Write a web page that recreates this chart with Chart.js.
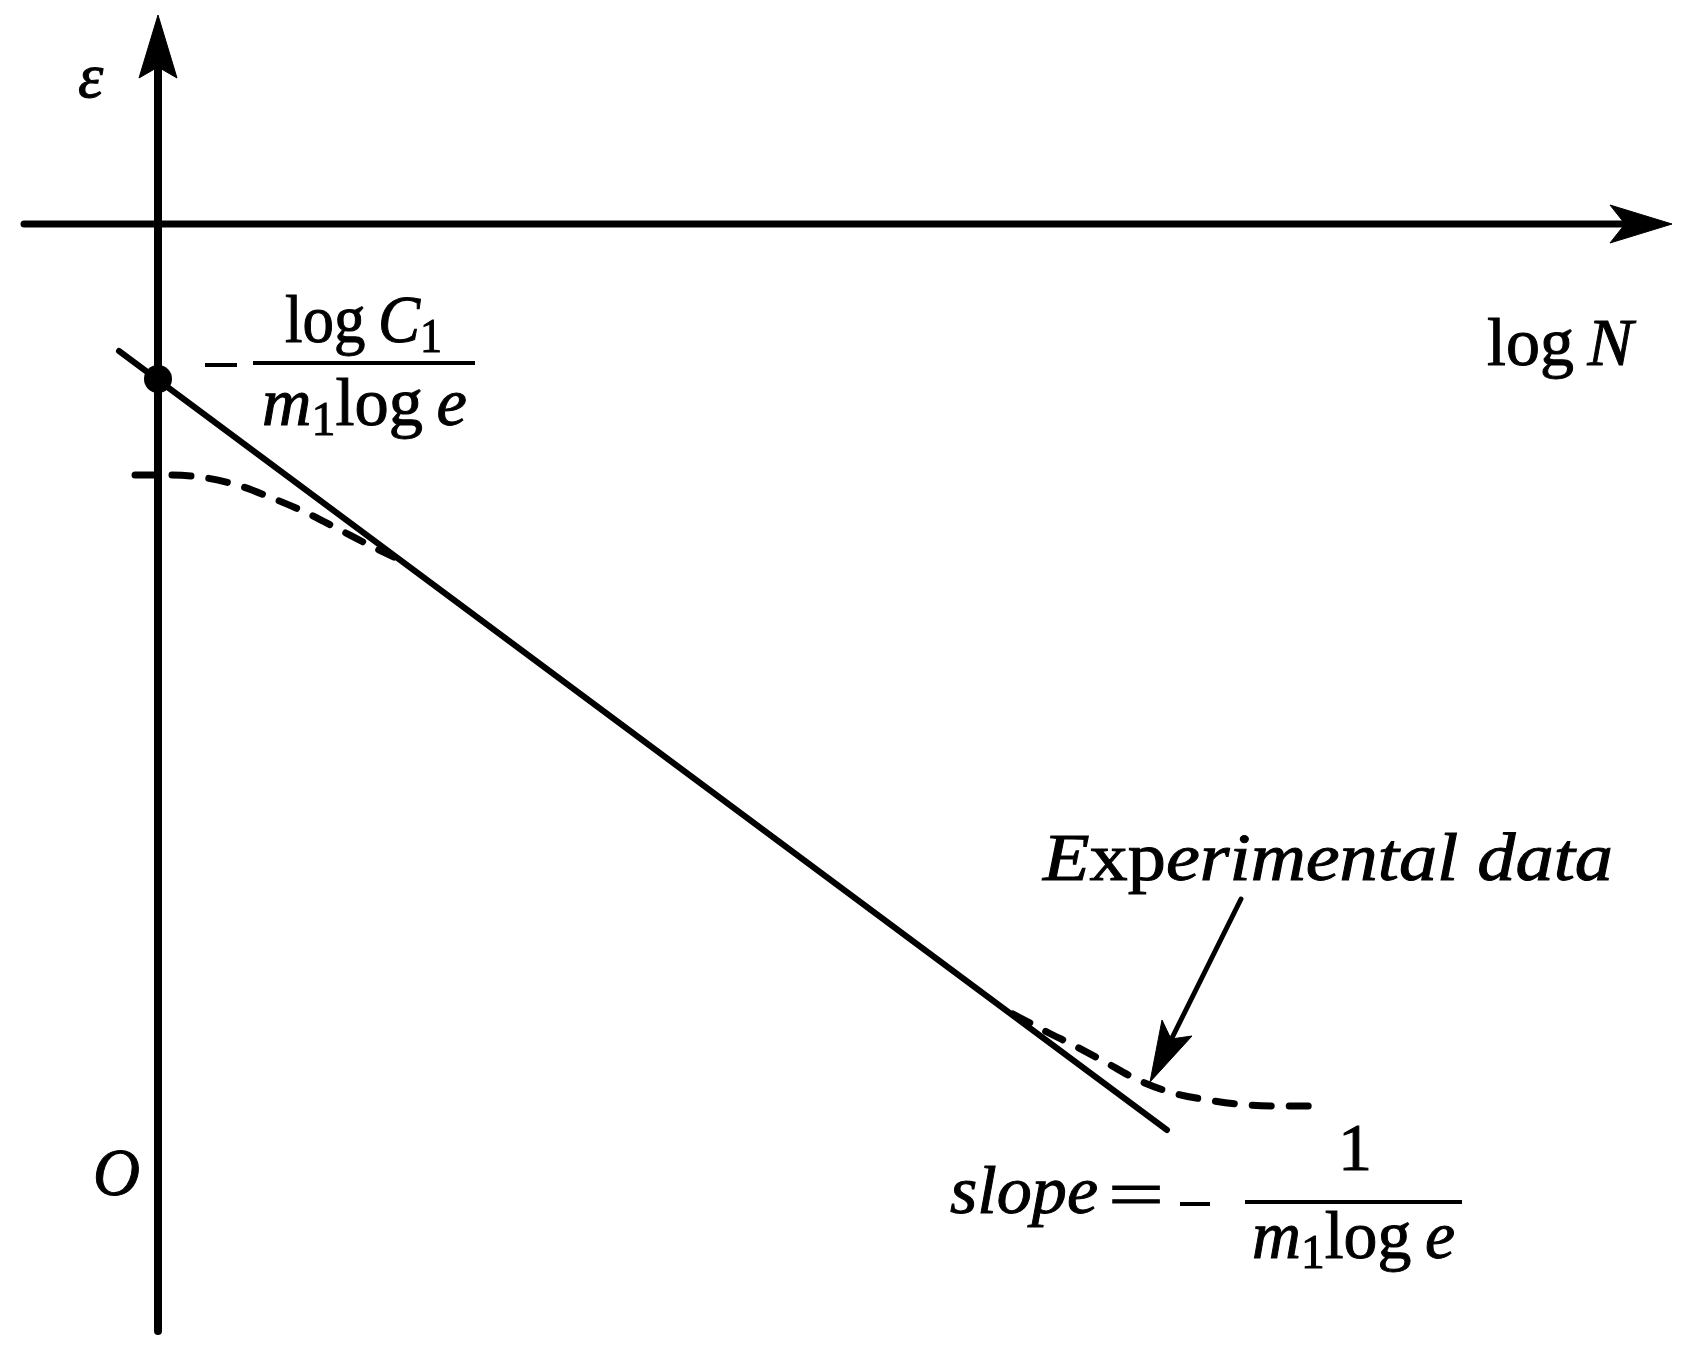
<!DOCTYPE html>
<html>
<head>
<meta charset="utf-8">
<script src="https://cdn.jsdelivr.net/npm/chart.js@4.4.0/dist/chart.umd.min.js"></script>
<style>
    html, body { margin: 0; padding: 0; background: #fff; }
    #wrap { width: 1699px; height: 1355px; position: relative; }
    .warm { position: absolute; left: -9999px; font-family: "Liberation Serif"; }
</style>
</head>
<body>
<span class="warm">log</span><span class="warm" style="font-style:italic">slope</span>
<div id="wrap"><canvas id="diagram"></canvas></div>
<script>
// logN on x, epsilon on y (axis crossing at 0,0)
const fitLogN = [-0.39, 10.09];
const fitEps = [-1.27, -9.06];
const interceptLogN = [0];
const interceptEps = [-1.55];

// experimental data, dashed
const upperLogN = [-0.23, 0.12, 0.42, 0.79, 1.14, 1.49, 1.82, 2.17, 2.36];
const upperEps = [-2.51, -2.51, -2.53, -2.61, -2.74, -2.89, -3.06, -3.24, -3.33];
const lowerLogN = [8.55, 8.89, 9.15, 9.47, 9.80, 10.15, 10.50, 10.90, 11.27, 11.65];
const lowerEps = [-7.90, -8.08, -8.21, -8.38, -8.56, -8.69, -8.76, -8.81, -8.82, -8.82];

// axes and arrows
const hAxisLogN = [-1.34, 14.75];
const vAxisEps = [-11.07, 1.62];
const hHeadLogN = [15.14, 14.52, 14.67, 14.52, 15.14];
const hHeadEps = [0, 0.19, 0, -0.19, 0];
const vHeadLogN = [0, -0.19, 0, 0.19, 0];
const vHeadEps = [2.09, 1.46, 1.57, 1.46, 2.09];
const pointerLogN = [10.83, 10.10];
const pointerEps = [-6.75, -8.22];
const pointerHeadLogN = [9.92, 10.04, 10.13, 10.34, 9.92];
const pointerHeadEps = [-8.58, -7.96, -8.15, -8.12, -8.58];

const pts = (xs, ys) => xs.map((x, i) => ({ x: x, y: ys[i] }));

const FONT = '"Liberation Serif", "Times New Roman", serif';

// text pieces: x, y in data units (left edge / baseline), w = fitted width in data units
const labels = [
    { runs: [{ t: 'ε', it: true }], x: -0.80, y: 1.27, size: 64 },
    { runs: [{ t: 'log' }, { t: '\u2009' }, { t: 'N', it: true }], x: 13.29, y: -1.41, w: 1.46 },
    { runs: [{ t: 'log' }, { t: '\u2009' }, { t: 'C', it: true }, { t: '1', sub: true }], x: 1.27, y: -1.18, w: 1.57 },
    { runs: [{ t: 'm', it: true }, { t: '1', sub: true }, { t: 'log' }, { t: '\u2009' }, { t: 'e', it: true }], x: 1.04, y: -2.01, w: 2.05 },
    { runs: [{ t: 'E', it: true }, { t: 'xp' }, { t: 'erimental data', it: true }], x: 8.85, y: -6.56, w: 5.70 },
    { runs: [{ t: 'O', it: true }], x: -0.65, y: -9.71, w: 0.47 },
    { runs: [{ t: 'slope', it: true }], x: 7.92, y: -9.89, w: 1.48 },
    { runs: [{ t: '=' }], x: 9.50, y: -9.93, w: 0.56 },
    { runs: [{ t: '1' }], x: 11.97, y: -9.46, center: true },
    { runs: [{ t: 'm', it: true }, { t: '1', sub: true }, { t: 'log' }, { t: '\u2009' }, { t: 'e', it: true }], x: 10.94, y: -10.34, w: 2.03 }
];
// fraction bars and minus signs
const rules = [
    { from: 0.95, to: 3.17, y: -1.39 },
    { from: 0.47, to: 0.79, y: -1.41 },
    { from: 10.87, to: 13.04, y: -9.78 },
    { from: 10.22, to: 10.52, y: -9.80 }
];

function runFont(r, size) {
    const s = r.sub ? size * 0.7 : size;
    return (r.it ? 'italic ' : '') + s + 'px ' + FONT;
}

function drawRuns(ctx, lab, px, py, pw) {
    const size = lab.size || 68;
    let total = 0;
    const widths = lab.runs.map(r => {
        ctx.font = runFont(r, size);
        const w = ctx.measureText(r.t).width;
        total += w;
        return w;
    });
    const sx = pw ? pw / total : 1;
    let left = lab.center ? px - total * sx / 2 : px;
    ctx.save();
    ctx.translate(left, py);
    ctx.scale(sx, 1);
    let cx = 0;
    lab.runs.forEach((r, i) => {
        ctx.font = runFont(r, size);
        const dy = r.sub ? size * 0.15 : 0;
        ctx.fillText(r.t, cx, dy);
        ctx.strokeText(r.t, cx, dy);
        cx += widths[i];
    });
    ctx.restore();
}

const textPlugin = {
    id: 'diagramText',
    afterDatasetsDraw(chart) {
        const ctx = chart.ctx;
        const xs = chart.scales.x, ys = chart.scales.y;
        ctx.save();
        ctx.fillStyle = '#000';
        ctx.strokeStyle = '#000';
        ctx.lineWidth = 1;
        ctx.textBaseline = 'alphabetic';
        labels.forEach(lab => {
            const px = xs.getPixelForValue(lab.x);
            const py = ys.getPixelForValue(lab.y);
            const pw = lab.w ? xs.getPixelForValue(lab.x + lab.w) - px : null;
            drawRuns(ctx, lab, px, py, pw);
        });
        ctx.lineWidth = 4;
        rules.forEach(b => {
            const y = ys.getPixelForValue(b.y);
            ctx.beginPath();
            ctx.moveTo(xs.getPixelForValue(b.from), y);
            ctx.lineTo(xs.getPixelForValue(b.to), y);
            ctx.stroke();
        });
        ctx.restore();
    }
};

function solid(data, width) {
    return {
        data: data, showLine: true, borderColor: '#000', borderWidth: width,
        pointRadius: 0, borderCapStyle: 'round', fill: false
    };
}
function head(data) {
    return {
        data: data, showLine: true, borderColor: '#000', backgroundColor: '#000',
        borderWidth: 1, pointRadius: 0, fill: 'shape', borderJoinStyle: 'miter'
    };
}
function dashed(data) {
    return {
        data: data, showLine: true, borderColor: '#000', borderWidth: 7,
        borderDash: [19, 18], borderCapStyle: 'round', pointRadius: 0,
        cubicInterpolationMode: 'monotone', fill: false
    };
}

function drawDiagram() {
    new Chart(document.getElementById('diagram'), {
        type: 'scatter',
        data: {
            datasets: [
                solid(pts(hAxisLogN, [0, 0]), 7),
                solid(pts([0, 0], vAxisEps), 8),
                head(pts(hHeadLogN, hHeadEps)),
                head(pts(vHeadLogN, vHeadEps)),
                dashed(pts(upperLogN, upperEps)),
                dashed(pts(lowerLogN, lowerEps)),
                solid(pts(fitLogN, fitEps), 6),
                solid(pts(pointerLogN, pointerEps), 5),
                head(pts(pointerHeadLogN, pointerHeadEps)),
                {
                    data: pts(interceptLogN, interceptEps), pointRadius: 14,
                    backgroundColor: '#000', borderColor: '#000', borderWidth: 0
                }
            ]
        },
        options: {
            responsive: true,
            maintainAspectRatio: false,
            animation: false,
            devicePixelRatio: 1,
            layout: { padding: 0, autoPadding: false },
            plugins: { legend: { display: false }, tooltip: { enabled: false } },
            scales: {
                x: { type: 'linear', display: false, min: -1.58, max: 15.41 },
                y: { type: 'linear', display: false, min: -11.31, max: 2.24 }
            }
        },
        plugins: [textPlugin]
    });
}

Promise.all([
    document.fonts.load('68px "Liberation Serif"'),
    document.fonts.load('italic 68px "Liberation Serif"')
]).then(drawDiagram, drawDiagram);
</script>
</body>
</html>
